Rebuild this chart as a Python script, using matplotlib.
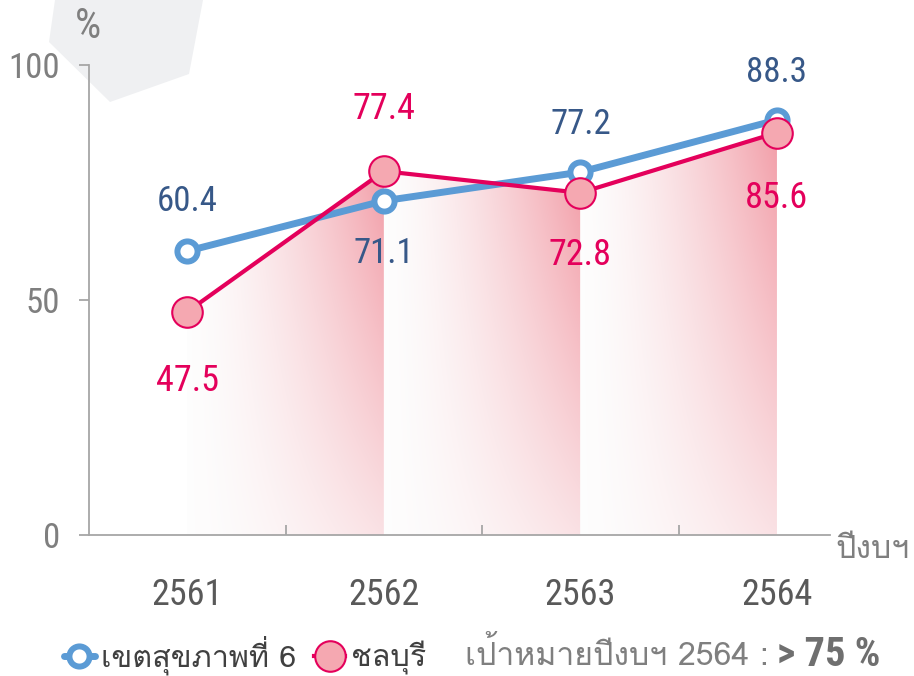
import os
import numpy as np
import matplotlib
matplotlib.use("Agg")
import matplotlib.pyplot as plt
from matplotlib import font_manager
from matplotlib.patches import Polygon

years = ["2561", "2562", "2563", "2564"]
region6 = [60.4, 71.1, 77.2, 88.3]
chonburi = [47.5, 77.4, 72.8, 85.6]
yticks = [0, 50, 100]
legend_labels = ["เขตสุขภาพที่ 6", "ชลบุรี"]
target_text = "เป้าหมายปีงบฯ 2564 :"
target_value = "> 75 %"


def find_thai_font():
    # look for any installed font that has Thai glyphs
    try:
        from fontTools.ttLib import TTFont
    except ImportError:
        return "DejaVu Sans"
    for f in font_manager.fontManager.ttflist:
        try:
            cmap = TTFont(f.fname, fontNumber=0, lazy=True).getBestCmap()
        except Exception:
            continue
        if cmap and 0x0E01 in cmap and 0x0E35 in cmap:
            return f.name
    return "DejaVu Sans"


def find_file(patterns):
    files = [f.fname for f in font_manager.fontManager.ttflist]
    for p in patterns:
        for fn in files:
            b = os.path.basename(fn).lower()
            if p in b and "italic" not in b and "oblique" not in b:
                return fn
    return None


narrow = find_file(["liberationsansnarrow-regular", "robotocondensed-regular",
                    "opensans_condensed-regular", "opensanscondensed-regular",
                    "dejavusanscondensed.ttf"])
narrow_bold = find_file(["liberationsansnarrow-bold", "robotocondensed-bold",
                         "opensans_condensed-bold", "dejavusanscondensed-bold"])


def nfont(size, bold=False):
    fn = narrow_bold if bold else narrow
    if fn:
        return font_manager.FontProperties(fname=fn, size=size)
    return font_manager.FontProperties(family="DejaVu Sans", size=size,
                                       stretch="condensed",
                                       weight="bold" if bold else "normal")


thai = find_thai_font()
thai_font = [thai, "DejaVu Sans"]

blue = "#5b9bd5"
red = "#e4005b"
blue_txt = "#375888"
gray = "#7f7f7f"

fig = plt.figure(figsize=(9.14, 6.76), dpi=100)

# light gray shape behind the top-left corner
pts = np.array([(55, 0), (49, 42), (110, 102), (189, 74), (203, 0)], float)
pts[:, 0] /= 914
pts[:, 1] = 1 - pts[:, 1] / 676
fig.add_artist(Polygon(pts, closed=True, transform=fig.transFigure,
                       facecolor="#eff0f2", edgecolor="none", zorder=-5))

ax = fig.add_axes([0.0974, 0.2086, 0.8107, 0.6953])
ax.patch.set_alpha(0)
x = np.arange(len(years))

# gradient fill under the chonburi line, one piece per segment
pink = np.array([238, 122, 136]) / 255.0
for i in range(len(x) - 1):
    gx = np.linspace(0, 1, 200)
    gy = np.linspace(0, 1, 200)
    tx, ty = np.meshgrid(gx, gy)
    a = 0.72 * tx ** 1.5 * (0.3 + 0.7 * ty)
    img = np.ones((200, 200, 4))
    for c in range(3):
        img[..., c] = (1 - a) * 0.993 + a * pink[c]
    ytop = max(chonburi[i], chonburi[i + 1])
    im = ax.imshow(img, extent=(x[i], x[i + 1], 0, ytop), origin="lower",
                   aspect="auto", zorder=1, interpolation="bilinear")
    poly = Polygon([(x[i], 0), (x[i], chonburi[i]), (x[i + 1], chonburi[i + 1]),
                    (x[i + 1], 0)], closed=True, transform=ax.transData,
                   facecolor="none", edgecolor="none")
    ax.add_patch(poly)
    im.set_clip_path(poly)

l1, = ax.plot(x, region6, color=blue, lw=5, marker="o", ms=14.5,
              mfc="white", mec=blue, mew=4.3, zorder=3,
              solid_capstyle="round")
l2, = ax.plot(x, chonburi, color=red, lw=3, marker="o", ms=22,
              mfc="#f5a8b1", mec=red, mew=1.5, zorder=4)

# value labels
blue_off = [36, -38, 34, 34]
red_off = [-50, 45, -45, -47]
for i in range(len(x)):
    ax.annotate(f"{region6[i]:.1f}", (x[i], region6[i]), xytext=(0, blue_off[i]),
                textcoords="offset points", ha="center", va="center",
                fontproperties=nfont(25), color=blue_txt, zorder=6)
    ax.annotate(f"{chonburi[i]:.1f}", (x[i], chonburi[i]), xytext=(0, red_off[i]),
                textcoords="offset points", ha="center", va="center",
                fontproperties=nfont(26), color=red, zorder=6)

ax.set_xlim(-0.5, 3.27)
ax.set_ylim(0, 100)
ax.spines["top"].set_visible(False)
ax.spines["right"].set_visible(False)
for s in ("left", "bottom"):
    ax.spines[s].set_color("#a6a6a6")
    ax.spines[s].set_linewidth(1.3)

ax.set_yticks(yticks)
ax.set_yticklabels([str(v) for v in yticks], fontproperties=nfont(25),
                   color=gray)
ax.tick_params(axis="y", length=7, width=1.3, color="#a6a6a6", pad=14)

ax.set_xticks([0.5, 1.5, 2.5])
ax.set_xticklabels([])
ax.tick_params(axis="x", which="major", direction="in", length=7, width=1.3,
               color="#a6a6a6")
ax.set_xticks(x, minor=True)
ax.set_xticklabels(years, minor=True, fontproperties=nfont(26),
                   color="#595959")
ax.tick_params(axis="x", which="minor", length=0, pad=30)

fig.text(88 / 914, 1 - 27 / 676, "%", ha="center", va="center",
         fontproperties=nfont(30), color=gray)
fig.text(835 / 914, 1 - 550 / 676, "ปีงบฯ", ha="left", va="center", fontsize=23,
         color=gray, family=thai_font)

leg = fig.legend([l1, l2], legend_labels, loc="center left",
                 bbox_to_anchor=(0.07, 0.031), ncol=2, frameon=False,
                 handlelength=1.0, handletextpad=0.2, columnspacing=0.6,
                 borderpad=0, borderaxespad=0,
                 prop={"family": thai_font, "size": 22})
for t in leg.get_texts():
    t.set_color("#404040")

t1 = fig.text(465 / 914, 0.031, target_text, ha="left", va="center",
              fontsize=23, color=gray, family=thai_font)
ax.annotate(target_value, xy=(1, 0.5), xycoords=t1, xytext=(6, 0),
            textcoords="offset points", ha="left", va="center",
            fontproperties=nfont(29, bold=True), color="#6f6f6f",
            annotation_clip=False)

fig.savefig("out.png", dpi=100)
